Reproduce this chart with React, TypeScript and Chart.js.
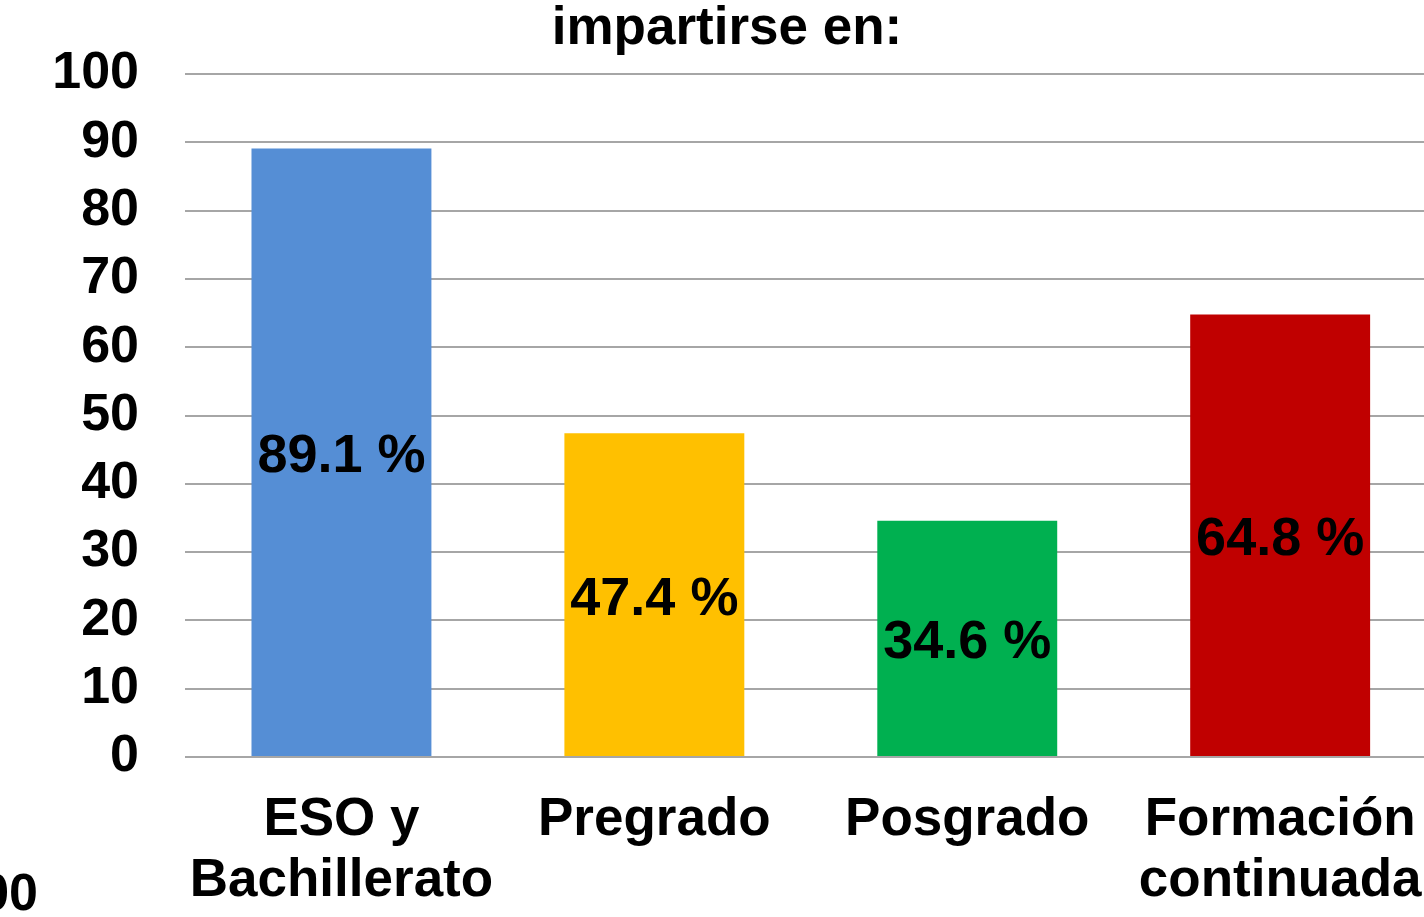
import React, { useEffect, useRef } from "react";
import { Chart, registerables } from "chart.js";

Chart.register(...registerables);

const categories: (string | string[])[] = [
  ["ESO y", "Bachillerato"],
  "Pregrado",
  "Posgrado",
  ["Formación", "continuada"],
];
const values: number[] = [89.1, 47.4, 34.6, 64.8];
const barColors: string[] = ["#558ED5", "#FFC000", "#00B050", "#C00000"];
const titleText = "impartirse en:";
const yMin = 0;
const yMax = 100;
const yStep = 10;
const fragmentText = "100";

const FONT = '"Liberation Sans", Arial, Helvetica, sans-serif';

const valueLabelPlugin = {
  id: "valueLabels",
  afterDatasetsDraw(chart: any) {
    const ctx = chart.ctx;
    const meta = chart.getDatasetMeta(0);
    ctx.save();
    ctx.font = `bold 54px ${FONT}`;
    ctx.fillStyle = "#000";
    ctx.textAlign = "center";
    ctx.textBaseline = "middle";
    meta.data.forEach((bar: any, i: number) => {
      const v = chart.data.datasets[0].data[i] as number;
      const cy = (bar.y + bar.base) / 2 + 5;
      ctx.fillText(`${v.toFixed(1)} %`, bar.x, cy);
    });
    ctx.restore();
  },
};

export default function App() {
  const canvasRef = useRef<HTMLCanvasElement | null>(null);

  useEffect(() => {
    if (!canvasRef.current) return;
    Chart.defaults.font.family = FONT;
    Chart.defaults.color = "#000";
    const chart = new Chart(canvasRef.current, {
      type: "bar",
      data: {
        labels: categories,
        datasets: [
          {
            data: values,
            backgroundColor: barColors,
            borderWidth: 0,
            barPercentage: 0.575,
            categoryPercentage: 1,
          },
        ],
      },
      options: {
        animation: false,
        responsive: false,
        maintainAspectRatio: false,
        layout: { padding: { top: 0, left: 0, right: 0, bottom: 0 } },
        plugins: {
          legend: { display: false },
          tooltip: { enabled: false },
          title: {
            display: true,
            text: titleText,
            color: "#000",
            font: { size: 53, weight: "bold", family: FONT, lineHeight: 1.2 },
            padding: { top: 8, bottom: 12.4 },
          },
        },
        scales: {
          x: {
            grid: { display: false, drawTicks: false },
            border: { display: false },
            ticks: {
              color: "#000",
              padding: 32.5,
              maxRotation: 0,
              autoSkip: false,
              font: { size: 53, weight: "bold", family: FONT, lineHeight: 1.15 },
            },
            afterFit(scale: any) {
              scale.height = 160;
            },
          },
          y: {
            min: yMin,
            max: yMax,
            grid: { color: "#A6A6A6", lineWidth: 2, drawTicks: false },
            border: { display: false },
            ticks: {
              stepSize: yStep,
              color: "#000",
              padding: 46,
              font: { size: 52, weight: "bold", family: FONT },
            },
            afterFit(scale: any) {
              scale.width = 185;
            },
          },
        },
      },
      plugins: [valueLabelPlugin],
    });
    return () => chart.destroy();
  }, []);

  return (
    <div
      style={{
        position: "fixed",
        left: 0,
        top: 0,
        width: 1424,
        height: 917,
        overflow: "hidden",
        background: "#fff",
      }}
    >
      <div style={{ position: "absolute", left: 0, top: -10, width: 1454, height: 927 }}>
        <canvas ref={canvasRef} width={1454} height={927} style={{ width: 1454, height: 927 }} />
      </div>
      <div
        style={{
          position: "absolute",
          left: -62,
          top: 866,
          width: 100,
          textAlign: "right",
          fontFamily: FONT,
          fontWeight: "bold",
          fontSize: 52,
          lineHeight: "52px",
          color: "#000",
        }}
      >
        {fragmentText}
      </div>
    </div>
  );
}
